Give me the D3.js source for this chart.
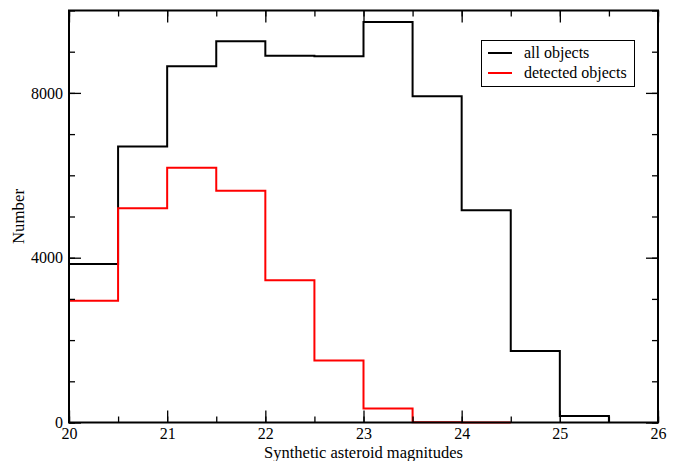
<!DOCTYPE html>
<html>
<head>
<meta charset="utf-8">
<script src="https://cdn.jsdelivr.net/npm/d3@7"></script>
<style>
  html, body { margin: 0; padding: 0; background: #fff; }
  svg { display: block; }
  text { font-family: "Liberation Serif", "DejaVu Serif", serif; fill: #000; }
</style>
</head>
<body>
<svg id="chart" width="681" height="461"></svg>
<script>
// Bin edges (left edges), bin width 0.5 magnitudes
const binStarts = [20, 20.5, 21, 21.5, 22, 22.5, 23, 23.5, 24, 24.5, 25];
const allObjects = [3845, 6698, 8645, 9251, 8904, 8887, 9721, 7918, 5154, 1736, 160];
const detectedBinStarts = [20, 20.5, 21, 21.5, 22, 22.5, 23, 23.5, 24];
const detectedObjects = [2958, 5203, 6182, 5624, 3450, 1503, 339, 8, 2];
const binWidth = 0.5;
const xTicks = [20, 21, 22, 23, 24, 25, 26];
const yTicks = [0, 4000, 8000];
const seriesNames = ["all objects", "detected objects"];
const seriesColors = ["#000000", "#ff0000"];

const svg = d3.select("#chart");
const margin = { left: 69, right: 23, top: 10.5, bottom: 38.5 };
const W = 681, H = 461;
const x = d3.scaleLinear().domain([20, 26]).range([margin.left, W - margin.right]);
const y = d3.scaleLinear().domain([0, 10000]).range([H - margin.bottom, margin.top]);

function stepPoints(starts, vals) {
  const pts = [[starts[0], 0]];
  starts.forEach((s, i) => {
    pts.push([s, vals[i]]);
    pts.push([s + binWidth, vals[i]]);
  });
  return pts;
}

const line = d3.line().x(d => x(d[0])).y(d => y(d[1]));

// Histograms
svg.append("path")
  .datum(stepPoints(binStarts, allObjects).concat([[binStarts[binStarts.length - 1] + binWidth, 0]]))
  .attr("d", line).attr("fill", "none").attr("stroke", seriesColors[0]).attr("stroke-width", 2);
svg.append("path")
  .datum(stepPoints(detectedBinStarts, detectedObjects))
  .attr("d", line).attr("fill", "none").attr("stroke", seriesColors[1]).attr("stroke-width", 2);

// Axes with inward ticks
const minorX = d3.range(20, 26.01, 0.5);
const minorY = d3.range(0, 10001, 1000);

const gB = svg.append("g").attr("transform", `translate(0,${y(0)})`)
  .call(d3.axisBottom(x).tickValues(minorX).tickSize(-6).tickFormat(""));
const gB2 = svg.append("g").attr("transform", `translate(0,${y(0)})`)
  .call(d3.axisBottom(x).tickValues(xTicks).tickSize(-12).tickPadding(5).tickFormat(d3.format("d")));
const gT = svg.append("g").attr("transform", `translate(0,${y(10000)})`)
  .call(d3.axisTop(x).tickValues(minorX).tickSize(-6).tickFormat(""));
const gT2 = svg.append("g").attr("transform", `translate(0,${y(10000)})`)
  .call(d3.axisTop(x).tickValues(xTicks).tickSize(-12).tickFormat(""));
const gL = svg.append("g").attr("transform", `translate(${x(20)},0)`)
  .call(d3.axisLeft(y).tickValues(minorY).tickSize(-6).tickFormat(""));
const gL2 = svg.append("g").attr("transform", `translate(${x(20)},0)`)
  .call(d3.axisLeft(y).tickValues(yTicks).tickSize(-12).tickPadding(6).tickFormat(d3.format("d")));
const gR = svg.append("g").attr("transform", `translate(${x(26)},0)`)
  .call(d3.axisRight(y).tickValues(minorY).tickSize(-6).tickFormat(""));
const gR2 = svg.append("g").attr("transform", `translate(${x(26)},0)`)
  .call(d3.axisRight(y).tickValues(yTicks).tickSize(-12).tickFormat(""));

[gB, gB2, gT, gT2, gL, gL2, gR, gR2].forEach(g => {
  g.attr("font-family", null).attr("font-size", null);
  g.select(".domain").remove();
  g.selectAll(".tick line").attr("stroke", "#000").attr("stroke-width", 1.3);
  g.selectAll("text").attr("font-size", 16).attr("fill", "#000");
});
gL2.selectAll(".tick text").attr("dy", "0.32em");
gB2.selectAll(".tick text").attr("dy", "0.71em");

// Frame
svg.append("rect")
  .attr("x", x(20)).attr("y", y(10000))
  .attr("width", x(26) - x(20)).attr("height", y(0) - y(10000))
  .attr("fill", "none").attr("stroke", "#000").attr("stroke-width", 2);

// Axis labels
svg.append("text").attr("x", (x(20) + x(26)) / 2).attr("y", 457.5)
  .attr("text-anchor", "middle").attr("font-size", 16.5).text("Synthetic asteroid magnitudes");
svg.append("text").attr("transform", `translate(24,${(y(0) + y(10000)) / 2}) rotate(-90)`)
  .attr("text-anchor", "middle").attr("font-size", 16.8).text("Number");

// Legend
const lg = svg.append("g");
lg.append("rect").attr("x", 481.5).attr("y", 40.5).attr("width", 153).attr("height", 46)
  .attr("fill", "#fff").attr("stroke", "#000").attr("stroke-width", 1);
seriesNames.forEach((n, i) => {
  const yy = 53 + i * 20;
  lg.append("line").attr("x1", 488).attr("x2", 512).attr("y1", yy).attr("y2", yy)
    .attr("stroke", seriesColors[i]).attr("stroke-width", 2);
  lg.append("text").attr("x", 524).attr("y", yy).attr("dy", "0.32em")
    .attr("font-size", 16).text(n);
});
</script>
</body>
</html>
